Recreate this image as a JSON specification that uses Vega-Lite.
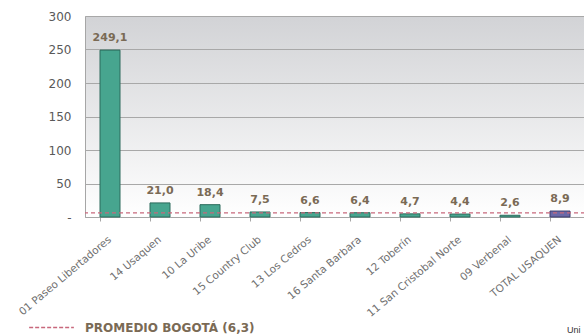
{
  "$schema": "https://vega.github.io/schema/vega-lite/v6.json",
  "autosize": "none",
  "width": 500,
  "height": 201,
  "padding": {"left": 85, "top": 16, "right": 0, "bottom": 119},
  "background": "white",
  "title": {
    "text": "Uni",
    "orient": "top",
    "anchor": "end",
    "frame": "group",
    "align": "left",
    "baseline": "bottom",
    "dx": -18,
    "dy": 334,
    "offset": 0,
    "fontSize": 9,
    "fontWeight": "normal",
    "font": "Liberation Sans",
    "color": "#333333"
  },
  "config": {
    "locale": {"number": {"decimal": ",", "thousands": ".", "grouping": [3], "currency": ["$", ""]}},
    "view": {
      "stroke": "#a6a6a6",
      "fill": {
        "gradient": "linear",
        "x1": 0, "y1": 0, "x2": 0, "y2": 1,
        "stops": [
          {"offset": 0, "color": "#d2d3d6"},
          {"offset": 1, "color": "#ffffff"}
        ]
      }
    },
    "font": "DejaVu Sans",
    "axisX": {
      "title": null,
      "labelAngle": -40,
      "labelAlign": "right",
      "labelBaseline": "middle",
      "labelFontSize": 10.5,
      "labelColor": "#707070",
      "labelPadding": 17,
      "labelOverlap": false,
      "labelLimit": 200,
      "bandPosition": 0,
      "ticks": true,
      "tickColor": "#a6a6a6",
      "tickSize": 4,
      "domainColor": "#a6a6a6",
      "grid": false
    },
    "axisY": {
      "title": null,
      "labelFontSize": 12,
      "labelColor": "#595959",
      "labelPadding": 14,
      "ticks": false,
      "domain": false,
      "grid": true,
      "gridColor": "#a8a8a8",
      "gridWidth": 1,
      "labelOverlap": false
    }
  },
  "data": {
    "values": [
      {"barrio": "01 Paseo Libertadores", "valor": 249.1, "tipo": "barrio"},
      {"barrio": "14 Usaquen", "valor": 21.0, "tipo": "barrio"},
      {"barrio": "10 La Uribe", "valor": 18.4, "tipo": "barrio"},
      {"barrio": "15 Country Club", "valor": 7.5, "tipo": "barrio"},
      {"barrio": "13 Los Cedros", "valor": 6.6, "tipo": "barrio"},
      {"barrio": "16 Santa Barbara", "valor": 6.4, "tipo": "barrio"},
      {"barrio": "12 Toberín", "valor": 4.7, "tipo": "barrio"},
      {"barrio": "11 San Cristobal Norte", "valor": 4.4, "tipo": "barrio"},
      {"barrio": "09 Verbenal", "valor": 2.6, "tipo": "barrio"},
      {"barrio": "TOTAL USAQUEN", "valor": 8.9, "tipo": "total"}
    ]
  },
  "resolve": {"scale": {"stroke": "independent", "fill": "independent"}},
  "layer": [
    {
      "mark": {"type": "bar", "strokeWidth": 1},
      "encoding": {
        "x": {
          "field": "barrio",
          "type": "nominal",
          "sort": null,
          "scale": {"paddingInner": 0.6, "paddingOuter": 0.3},
          "axis": {"labelAngle": -40}
        },
        "y": {
          "field": "valor",
          "type": "quantitative",
          "scale": {"domain": [0, 300], "nice": false},
          "axis": {"values": [0, 50, 100, 150, 200, 250, 300], "labelExpr": "datum.value == 0 ? '-' : datum.label", "format": "d"}
        },
        "fill": {
          "field": "tipo",
          "type": "nominal",
          "scale": {"domain": ["barrio", "total"], "range": ["#47a58f", "#6b69a8"]},
          "legend": null
        },
        "stroke": {
          "field": "tipo",
          "type": "nominal",
          "scale": {"domain": ["barrio", "total"], "range": ["#2c6b5c", "#3d3c6e"]},
          "legend": null
        }
      }
    },
    {
      "mark": {"type": "text", "baseline": "bottom", "dy": -7, "fontWeight": "bold", "fontSize": 11, "color": "#7a6a55"},
      "encoding": {
        "x": {"field": "barrio", "type": "nominal", "sort": null, "axis": {"labelAngle": -40}},
        "y": {"field": "valor", "type": "quantitative", "axis": {"values": [0, 50, 100, 150, 200, 250, 300], "labelExpr": "datum.value == 0 ? '-' : datum.label", "format": "d"}},
        "text": {"field": "valor", "type": "quantitative", "format": ".1f"}
      }
    },
    {
      "data": {"values": [{"valor": 6.3, "serie": "PROMEDIO BOGOTÁ (6,3)"}]},
      "mark": {"type": "rule", "strokeDash": [4, 3], "strokeWidth": 1.2},
      "encoding": {
        "y": {"field": "valor", "type": "quantitative", "axis": {"values": [0, 50, 100, 150, 200, 250, 300], "labelExpr": "datum.value == 0 ? '-' : datum.label", "format": "d"}},
        "stroke": {
          "field": "serie",
          "type": "nominal",
          "scale": {"range": ["#c8687c"]},
          "legend": {
            "title": null,
            "orient": "none",
            "legendX": -57,
            "legendY": 288,
            "symbolType": "stroke",
            "symbolSize": 2000,
            "symbolStrokeWidth": 1.5,
            "symbolDash": [4, 2],
            "labelFontSize": 12,
            "labelFontWeight": "bold",
            "labelColor": "#7a6a55",
            "labelOffset": 10,
            "labelLimit": 300
          }
        }
      }
    }
  ]
}
